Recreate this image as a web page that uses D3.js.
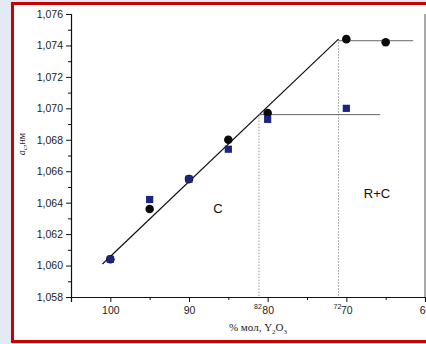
<!DOCTYPE html>
<html>
<head>
<meta charset="utf-8">
<script src="https://cdn.jsdelivr.net/npm/d3@7"></script>
<style>
  body { margin: 0; background: #e3eaf4; }
  svg { display: block; }
  .tick text { font-family: Arial, "Liberation Sans", sans-serif; font-size: 10.5px; fill: #222; }
</style>
</head>
<body>
<svg width="426" height="344"></svg>
<script>
// data (x = % mol Y2O3, y = a_c, nm)
const circleX = [100, 95, 90, 85, 80, 70, 65];
const circleY = [1.0604, 1.0636, 1.0655, 1.0680, 1.0697, 1.0744, 1.0742];
const squareX = [100, 95, 90, 85, 80, 70];
const squareY = [1.0604, 1.0642, 1.0655, 1.0674, 1.0693, 1.0700];

// fitted line and the two horizontal plateaus
const fitLine = [[101, 1.0601], [71, 1.0744]];
const topLine = [[71, 1.0743], [61.5, 1.0743]];
const lowLine = [[81.1, 1.0696], [65.7, 1.0696]];

// phase boundaries (dotted)
const boundX = [81.1, 71];
const boundTop = [1.0696, 1.0744];
const boundLabels = ['82', '72'];

const xTicks = [100, 90, 80, 70, 60];
const xMinor = [95, 85, 75, 65];
const yTicks = [1.058, 1.060, 1.062, 1.064, 1.066, 1.068, 1.070, 1.072, 1.074, 1.076];
const yMinor = [1.059, 1.061, 1.063, 1.065, 1.067, 1.069, 1.071, 1.073, 1.075];

const svg = d3.select('svg');

// red frame
svg.append('rect')
    .attr('x', 12.5).attr('y', 3.5)
    .attr('width', 430).attr('height', 338)
    .attr('fill', '#fff')
    .attr('stroke', '#c80000')
    .attr('stroke-width', 3);

const x = d3.scaleLinear().domain([105, 60]).range([71, 425]);
const y = d3.scaleLinear().domain([1.058, 1.076]).range([297, 14]);

const fmt = d => d3.format('.3f')(d).replace('.', ',');

// right frame line
svg.append('line')
    .attr('x1', 425).attr('x2', 425)
    .attr('y1', 14).attr('y2', 297)
    .attr('stroke', '#555').attr('stroke-width', 1);

// axes
svg.append('g')
    .attr('transform', 'translate(71,0)')
    .call(d3.axisLeft(y).tickValues(yTicks).tickFormat(fmt).tickSize(5).tickPadding(3));
svg.append('g')
    .attr('transform', 'translate(71,0)')
    .call(d3.axisLeft(y).tickValues(yMinor).tickFormat('').tickSize(3))
    .select('.domain').remove();

const xAxis = svg.append('g')
    .attr('transform', 'translate(0,297)')
    .call(d3.axisBottom(x).tickValues(xTicks).tickFormat(d3.format('d')).tickSize(5).tickPadding(5));
svg.append('g')
    .attr('transform', 'translate(0,297)')
    .call(d3.axisBottom(x).tickValues(xMinor).tickFormat('').tickSize(3))
    .select('.domain').remove();

svg.selectAll('.domain').attr('stroke', '#111').attr('stroke-width', 1.2);
svg.selectAll('.tick line').attr('stroke', '#111');
xAxis.selectAll('.tick text').attr('font-size', '11px');

// dotted boundaries
svg.selectAll('line.bound')
    .data(boundX)
    .enter().append('line')
    .attr('class', 'bound')
    .attr('x1', d => x(d)).attr('x2', d => x(d))
    .attr('y1', (d, i) => y(boundTop[i])).attr('y2', 297)
    .attr('stroke', '#999')
    .attr('stroke-width', 1)
    .attr('stroke-dasharray', '1.5,1.5');

svg.selectAll('text.bound')
    .data(boundX)
    .enter().append('text')
    .attr('class', 'bound')
    .attr('x', d => x(d) - 1)
    .attr('y', 309)
    .attr('text-anchor', 'middle')
    .attr('font-family', 'Arial, sans-serif')
    .attr('font-size', '7px')
    .attr('fill', '#222')
    .text((d, i) => boundLabels[i]);

// lines
const line = d3.line().x(d => x(d[0])).y(d => y(d[1]));
svg.append('path').datum(fitLine).attr('d', line)
    .attr('fill', 'none').attr('stroke', '#111').attr('stroke-width', 1.2);
svg.append('path').datum(topLine).attr('d', line)
    .attr('fill', 'none').attr('stroke', '#666').attr('stroke-width', 1);
svg.append('path').datum(lowLine).attr('d', line)
    .attr('fill', 'none').attr('stroke', '#666').attr('stroke-width', 1);

// markers
svg.append('g').selectAll('circle')
    .data(circleX)
    .enter().append('circle')
    .attr('cx', d => x(d))
    .attr('cy', (d, i) => y(circleY[i]))
    .attr('r', 4.3)
    .attr('fill', '#0a0a0a');

svg.append('g').selectAll('rect')
    .data(squareX)
    .enter().append('rect')
    .attr('x', d => x(d) - 3.6)
    .attr('y', (d, i) => y(squareY[i]) - 3.6)
    .attr('width', 7.2).attr('height', 7.2)
    .attr('fill', '#1c2380');

// region labels
svg.append('text')
    .attr('x', 218).attr('y', 213)
    .attr('text-anchor', 'middle')
    .attr('font-family', 'Arial, sans-serif')
    .attr('font-size', '13px')
    .attr('fill', '#111')
    .text('C');
svg.append('text')
    .attr('x', 377).attr('y', 198)
    .attr('text-anchor', 'middle')
    .attr('font-family', 'Arial, sans-serif')
    .attr('font-size', '13px')
    .attr('fill', '#111')
    .text('R+C');

// axis titles
const xt = svg.append('text')
    .attr('x', 258).attr('y', 331)
    .attr('text-anchor', 'middle')
    .attr('font-family', '"Liberation Serif", "DejaVu Serif", serif')
    .attr('font-size', '11px')
    .attr('fill', '#222');
xt.append('tspan').text('% мол, Y');
xt.append('tspan').attr('font-size', '7px').attr('dy', 3).text('2');
xt.append('tspan').attr('dy', -3).text('O');
xt.append('tspan').attr('font-size', '7px').attr('dy', 3).text('3');

const yt = svg.append('text')
    .attr('transform', 'translate(25,144) rotate(-90)')
    .attr('text-anchor', 'middle')
    .attr('font-family', '"Liberation Serif", "DejaVu Serif", serif')
    .attr('font-size', '10px')
    .attr('fill', '#222');
yt.append('tspan').attr('font-style', 'italic').text('a');
yt.append('tspan').attr('font-size', '7px').attr('dy', 2).text('c');
yt.append('tspan').attr('dy', -2).text(',нм');
</script>
</body>
</html>
